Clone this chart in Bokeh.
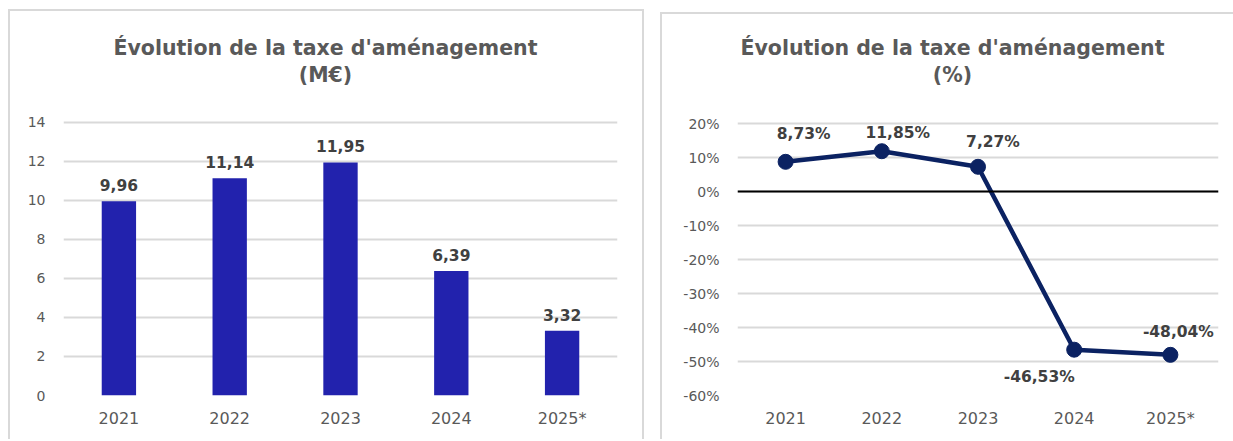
from bokeh.plotting import figure
from bokeh.models import ColumnDataSource, Label, Span, PrintfTickFormatter, FixedTicker
from bokeh.layouts import row
from bokeh.embed import file_html
from bokeh.resources import INLINE
from bokeh.core.properties import value

# ---------------- data ----------------
years = ["2021", "2022", "2023", "2024", "2025*"]
montants = [9.96, 11.14, 11.95, 6.39, 3.32]
montant_labels = ["9,96", "11,14", "11,95", "6,39", "3,32"]
evolution = [8.73, 11.85, 7.27, -46.53, -48.04]
evolution_labels = ["8,73%", "11,85%", "7,27%", "-46,53%", "-48,04%"]
y1_ticks = [0, 2, 4, 6, 8, 10, 12, 14]
y2_ticks = [-60, -50, -40, -30, -20, -10, 0, 10, 20]
title_line1 = "Évolution de la taxe d'aménagement"
title1_line2 = "(M€)"
title2_line2 = "(%)"

# ---------------- style ----------------
FONT = "DejaVu Sans"
GREY_TXT = "#595959"
DARK_TXT = "#404040"
GRID = "#d9d9d9"
BAR = "#2222AD"
LINE = "#0B2262"
BORDER = "2px solid #d9d9d9"
# per-point label offsets (screen px) for the line chart
lab_dx = [18, 16, 15, -35, 8]
lab_dy = [-28, -18, -25, 27, -23]


def style_axes(p):
    p.xgrid.grid_line_color = None
    p.ygrid.grid_line_color = GRID
    p.ygrid.grid_line_width = 2
    for ax in (p.xaxis, p.yaxis):
        ax.axis_line_color = None
        ax.major_tick_line_color = None
        ax.minor_tick_line_color = None
        ax.major_tick_out = 0
        ax.major_tick_in = 0
        ax.minor_tick_out = 0
        ax.major_label_text_font = FONT
        ax.major_label_text_color = GREY_TXT
    p.xaxis.major_label_text_font_size = "16px"
    p.yaxis.major_label_text_font_size = "14px"
    p.xaxis.major_label_standoff = 13
    p.yaxis.major_label_standoff = 18
    p.outline_line_color = None
    p.toolbar.logo = None


def add_title(p, x, line1, line2):
    for txt, y in ((line1, 348), (line2, 321)):
        p.add_layout(Label(x=x, y=y, x_units="screen", y_units="screen", text=txt,
                           text_align="center", text_baseline="alphabetic",
                           text_font=FONT, text_font_style="bold",
                           text_font_size="20.5px", text_color=GREY_TXT))


# ---------------- left: bars ----------------
src1 = ColumnDataSource(dict(x=years, y=montants, lab=montant_labels))
p1 = figure(x_range=years, y_range=(0, 19.69), width=636, height=430,
            output_backend="svg", toolbar_location=None,
            min_border_left=53, min_border_right=29,
            min_border_top=0, min_border_bottom=46,
            margin=(9, 0, 0, 8),
            styles={"border-top": BORDER, "border-left": BORDER, "border-right": BORDER})
p1.x_range.range_padding = 0
style_axes(p1)
p1.yaxis.ticker = FixedTicker(ticks=y1_ticks)
p1.vbar(x="x", top="y", width=0.31, source=src1, fill_color=BAR, line_color=None)
p1.text(x="x", y="y", text="lab", source=src1, text_align="center",
        text_baseline="alphabetic", y_offset=-16,
        text_font=value(FONT), text_font_style="bold", text_font_size="15.5px",
        text_color=DARK_TXT)
add_title(p1, 262, title_line1, title1_line2)

# ---------------- right: line ----------------
src2 = ColumnDataSource(dict(x=years, y=evolution, lab=evolution_labels,
                             dx=lab_dx, dy=lab_dy))
p2 = figure(x_range=years, y_range=(-60, 52.06), width=573, height=427,
            output_backend="svg", toolbar_location=None,
            min_border_left=75, min_border_right=17,
            min_border_top=0, min_border_bottom=46,
            margin=(12, 0, 0, 16),
            styles={"border-top": BORDER, "border-left": BORDER})
p2.x_range.range_padding = 0
style_axes(p2)
p2.yaxis.ticker = FixedTicker(ticks=y2_ticks)
p2.yaxis.formatter = PrintfTickFormatter(format="%d%%")
p2.add_layout(Span(location=0, dimension="width", line_color="black", line_width=2))
p2.line(x="x", y="y", source=src2, line_color=LINE, line_width=4.5)
p2.scatter(x="x", y="y", source=src2, size=15, fill_color=LINE, line_color=LINE)
p2.text(x="x", y="y", text="lab", source=src2, x_offset="dx", y_offset="dy",
        text_align="center", text_baseline="middle",
        text_font=value(FONT), text_font_style="bold", text_font_size="15.5px",
        text_color=DARK_TXT)
add_title(p2, 215, title_line1, title2_line2)

layout = row(p1, p2)
open("out.html", "w").write(file_html(layout, INLINE))
